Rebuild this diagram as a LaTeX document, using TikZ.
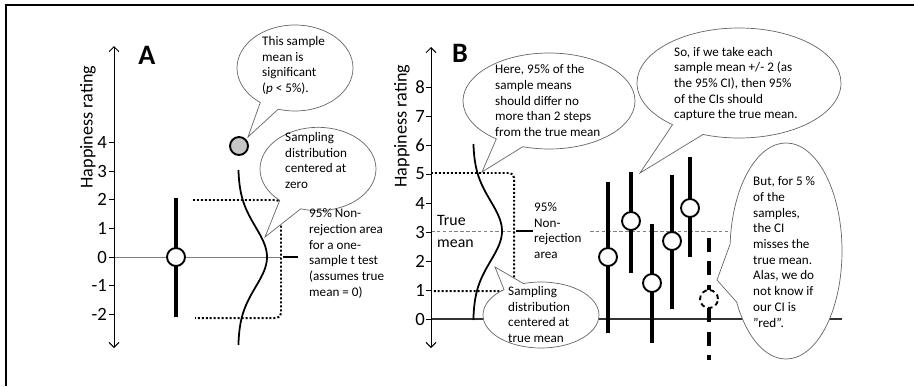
\documentclass[tikz,border=0pt]{standalone}
\usepackage{fontspec}
\setmainfont{Carlito}
\usetikzlibrary{shapes.callouts,arrows.meta}

\tikzset{
  bubble/.style={ellipse callout, draw=black!60, line width=0.6pt, fill=white, inner sep=0pt},
  bubbletext/.style={align=left, inner sep=0pt, anchor=west, font=\fontsize{11.2}{13.4}\selectfont},
  meandot/.style={circle, draw, line width=1.6pt, fill=white, minimum size=0.54cm, inner sep=0pt},
  cibar/.style={line width=3pt},
  rejline/.style={line width=1.7pt, dash pattern=on 1.7pt off 1.7pt, rounded corners=4pt},
  ticklabel/.style={anchor=east, inner sep=0pt, font=\fontsize{16}{18}\selectfont},
  axislabel/.style={rotate=90, inner sep=0pt, font=\fontsize{15.5}{18}\selectfont},
  panel/.style={inner sep=0pt, font=\fontsize{24}{26}\selectfont\bfseries},
}

\begin{document}
\begin{tikzpicture}[x=0.03cm, y=-0.03cm, >={Straight Barb[length=1.5mm,width=3mm]}]
  \useasboundingbox (0,0) rectangle (914,386);

  % frame
  \draw[line width=2.2pt] (6,386) -- (6,5) -- (914,5);

  % Panel A: axis and labels
  \draw[black!50, line width=0.8pt] (114,257) -- (281,257);
  \draw[<->, line width=0.8pt] (114,46) -- (114,348);
  \foreach \v in {-2,...,4} {
    \draw[line width=0.6pt] (109,{257-28.6*(\v)}) -- (114,{257-28.6*(\v)});
    \node[ticklabel] (ta\v) at (107,{257-28.6*(\v)}) {\v};
  }
  \node[axislabel] (ylabA) at (88,127) {Happiness rating};
  \node[panel] (A) at (147,55) {A};

  % Panel A: non-rejection area
  \draw[rejline] (193,200) -- (281,200) -- (281,318) -- (195,318);
  \draw[line width=1.1pt] (283,257) -- (298,257);

  % Panel A: sampling distribution and sample means
  \draw[line width=1.5pt] plot[domain=170:345, samples=60, smooth] ({238+29*exp(-((\x-257)*(\x-257))/1800)}, \x);
  \draw[cibar] (176,198) -- (176,317);
  \node[meandot] (meanA) at (176,257) {};
  \node[meandot, fill=black!22] (sigMean) at (239,146) {};

  % Panel A: bubbles
  \coordinate (sigTip) at (248,137);
  \coordinate (sampATip) at (265,237);
  \node[bubble, minimum width=3.48cm, minimum height=2.58cm,
        callout absolute pointer={(sigTip)}, callout pointer arc=20] (sig) at (295,68) {};
  \node[bubbletext] (sigText) at (262,65.5) {This sample\\mean is\\significant\\(\textit{p} < 5\%).};
  \node[bubble, minimum width=3.48cm, minimum height=2.5cm,
        callout absolute pointer={(sampATip)}, callout pointer arc=24] (sampA) at (318,169) {};
  \node[bubbletext] (sampAText) at (285,160.5) {Sampling\\distribution\\centered at\\zero};
  \node[bubbletext] (nonrejA) at (309,253.5) {95\% Non-\\rejection area\\for a one-\\sample t test\\(assumes true\\mean = 0)};

  % Panel B: axis and labels
  \draw[black!50, line width=0.6pt, dash pattern=on 3pt off 2pt] (431,231) -- (515,231);
  \draw[black!50, line width=0.6pt, dash pattern=on 3pt off 2pt] (590,231) -- (735,231);
  \draw[black!80, line width=1pt] (431,319) -- (842,319);
  \draw[<->, line width=0.8pt] (431,47) -- (431,348);
  \foreach \v in {0,...,8} {
    \draw[line width=0.6pt] (426,{319-29*\v}) -- (431,{319-29*\v});
    \node[ticklabel] (tb\v) at (425,{319-29*\v}) {\v};
  }
  \node[axislabel] (ylabB) at (402,126) {Happiness rating};
  \node[panel] (B) at (460,53) {B};
  \node[align=left, inner sep=0pt, anchor=west, font=\fontsize{13.5}{18}\selectfont] (trueMean) at (437,231.5) {True\\mean};

  % Panel B: non-rejection area
  \draw[rejline] (431,173) -- (514,173) -- (514,291) -- (431,291);
  \draw[line width=1.1pt] (516,231) -- (533,231);
  \node[bubbletext] (nonrejB) at (534,230.5) {95\%\\Non-\\rejection\\area};

  % Panel B: sampling distribution
  \draw[line width=1.5pt] plot[domain=144:320, samples=60, smooth] ({473+29*exp(-((\x-231)*(\x-231))/1800)}, \x);

  % Panel B: confidence intervals
  \foreach \cx/\top/\bot/\cy [count=\i] in {608/182/333/257, 631/172/273/221, 652/224/343/283, 672/175/309/241, 690/157/257/208} {
    \draw[cibar] (\cx,\top) -- (\cx,\bot);
    \node[meandot] (ci\i) at (\cx,\cy) {};
  }
  \draw[cibar, dash pattern=on 12pt off 8pt] (709,238) -- (709,360);
  \node[meandot, dash pattern=on 4pt off 3pt] (ciRed) at (709,299) {};

  % Panel B: bubbles
  \coordinate (hereTip) at (482,172);
  \coordinate (soTip) at (640,173);
  \coordinate (sampBTip) at (495,267);
  \coordinate (butTip) at (717,280);
  \node[bubble, minimum width=5.16cm, minimum height=2.88cm,
        callout absolute pointer={(hereTip)}, callout pointer arc=20] (here) at (549,101) {};
  \node[bubbletext] (hereText) at (495,100.5) {Here, 95\% of the\\sample means\\should differ no\\more than 2 steps\\from the true mean};
  \node[bubble, minimum width=6.12cm, minimum height=3.3cm,
        callout absolute pointer={(soTip)}, callout pointer arc=20] (so) at (739,83) {};
  \node[bubbletext] (soText) at (674,84) {So, if we take each\\sample mean +/- 2 (as\\the 95\% CI), then 95\%\\of the CIs should\\capture the true mean.};
  \node[bubble, minimum width=3.48cm, minimum height=1.98cm,
        callout absolute pointer={(sampBTip)}, callout pointer arc=22] (sampB) at (541,315) {};
  \node[bubbletext] (sampBText) at (508,314.5) {Sampling\\distribution\\centered at\\true mean};
  \node[bubble, minimum width=3.36cm, minimum height=6.48cm,
        callout absolute pointer={(butTip)}, callout pointer arc=32] (but) at (786,251) {};
  \node[bubbletext] (butText) at (753,252) {But, for 5 \%\\of the\\samples,\\the CI\\misses the\\true mean.\\Alas, we do\\not know if\\our CI is\\”red”.};
\end{tikzpicture}
\end{document}
